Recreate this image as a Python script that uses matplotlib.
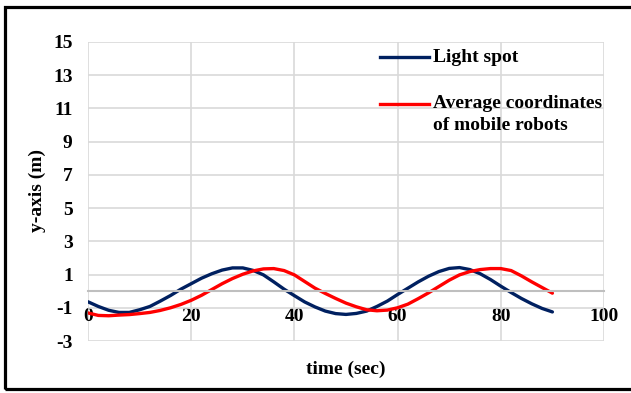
import matplotlib
matplotlib.use("Agg")
import matplotlib.pyplot as plt
from matplotlib.lines import Line2D
from matplotlib.patches import Rectangle

time_s = list(range(0, 91, 2))
light_spot = [-0.64, -0.92, -1.15, -1.28, -1.28, -1.12, -0.92, -0.60, -0.26, 0.12,
              0.45, 0.78, 1.05, 1.27, 1.40, 1.40, 1.25, 0.98, 0.56, 0.12,
              -0.27, -0.65, -0.95, -1.20, -1.35, -1.40, -1.34, -1.20, -0.92, -0.60,
              -0.20, 0.18, 0.56, 0.90, 1.18, 1.37, 1.42, 1.30, 1.05, 0.70,
              0.30, -0.08, -0.44, -0.76, -1.04, -1.25]
avg_robots = [-1.31, -1.46, -1.48, -1.44, -1.41, -1.35, -1.28, -1.16, -1.00, -0.80,
              -0.55, -0.25, 0.10, 0.45, 0.76, 1.02, 1.22, 1.34, 1.36, 1.24,
              0.98, 0.58, 0.18, -0.14, -0.44, -0.72, -0.94, -1.12, -1.18, -1.14,
              -1.00, -0.78, -0.45, -0.10, 0.28, 0.66, 0.98, 1.18, 1.30, 1.36,
              1.36, 1.24, 0.92, 0.56, 0.22, -0.12]

x_ticks = [0, 20, 40, 60, 80, 100]
y_ticks = [-3, -1, 1, 3, 5, 7, 9, 11, 13, 15]
labels = ["Light spot", "Average coordinates\nof mobile robots"]
colors = ["#002060", "#ff0000"]

W, H = 631, 393
plt.rcParams['font.family'] = ['Liberation Serif', 'DejaVu Serif']
plt.rcParams['axes.unicode_minus'] = False
fig = plt.figure(figsize=(W / 100, H / 100), dpi=100)

ax = fig.add_axes([88 / W, 1 - 341 / H, (604 - 88) / W, (341 - 42) / H])
ax.set_xlim(0, 100)
ax.set_ylim(-3, 15)
ax.set_xticks(x_ticks)
ax.set_yticks(y_ticks)
ax.grid(True, color="#d9d9d9", linewidth=1.2)
ax.set_axisbelow(True)
for s in ["top", "right", "left"]:
    ax.spines[s].set_visible(False)
ax.spines["bottom"].set_position(("data", 0))
ax.spines["bottom"].set_color("#bfbfbf")
ax.spines["bottom"].set_linewidth(1.5)
ax.tick_params(axis="both", length=0, labelsize=14)
ax.tick_params(axis="y", pad=11)
ax.tick_params(axis="x", pad=12)
for lab in ax.get_xticklabels() + ax.get_yticklabels():
    lab.set_fontweight("bold")

ax.plot(time_s, light_spot, color=colors[0], linewidth=2.4, solid_capstyle="round")
ax.plot(time_s, avg_robots, color=colors[1], linewidth=2.4, solid_capstyle="round")

fig.text(346 / W, 1 - 369 / H, "time (sec)", ha="center", va="center",
         fontsize=14, fontweight="bold")
fig.text(37 / W, 1 - 191 / H, "y-axis (m)", ha="center", va="center",
         rotation=90, fontsize=14, fontweight="bold")

# legend (manual)
def fx(px):
    return px / W

def fy(py):
    return 1 - py / H

fig.add_artist(Line2D([fx(380), fx(429)], [fy(57), fy(57)], color=colors[0], linewidth=2.4))
fig.text(fx(433), fy(58), labels[0], ha="left", va="center", fontsize=14, fontweight="bold")
fig.add_artist(Line2D([fx(380), fx(429)], [fy(104), fy(104)], color=colors[1], linewidth=2.4))
fig.text(fx(433), fy(95), labels[1], ha="left", va="top", fontsize=14, fontweight="bold",
         linespacing=1.4)

fig.add_artist(Rectangle((fx(5), fy(389)), fx(640) - fx(5), fy(6.5) - fy(389),
                         transform=fig.transFigure, fill=False, edgecolor="black",
                         linewidth=2.3))

fig.savefig("out.png", dpi=100)
